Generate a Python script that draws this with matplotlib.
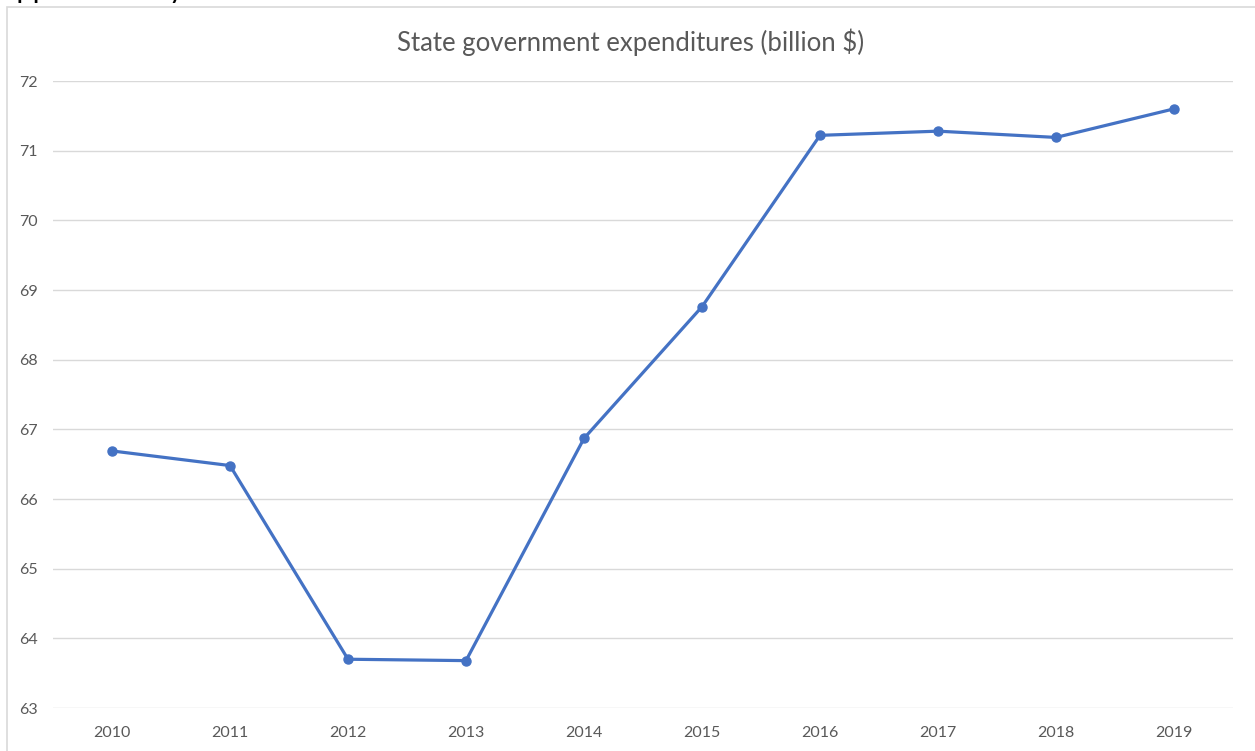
import matplotlib.pyplot as plt
from matplotlib.patches import Rectangle

# data
years = ["2010", "2011", "2012", "2013", "2014", "2015", "2016", "2017", "2018", "2019"]
spending = [66.69, 66.48, 63.70, 63.68, 66.87, 68.76, 71.22, 71.28, 71.19, 71.60]
y_ticks = [63, 64, 65, 66, 67, 68, 69, 70, 71, 72]

W, H = 1255, 751
plt.rcParams['font.family'] = ['Lato', 'DejaVu Sans']
fig = plt.figure(figsize=(W / 100, H / 100), dpi=100)

# chart frame (light grey box, runs off right/bottom)
fig.patches.append(Rectangle((7 / W, -0.05), 1.1, 1 - 7 / H + 0.05,
                             transform=fig.transFigure, fill=False,
                             edgecolor='#d9d9d9', lw=1.2))

# leftover line of the document text above the chart
fig.text(2 / W, 1 + 2 / H, "approximately 66.6 billion dollars.", fontsize=21,
         color='black', ha='left', va='baseline')

ax = fig.add_axes([53 / W, 1 - 708 / H, (1233 - 53) / W, (708 - 81) / H])
x = list(range(len(years)))
ax.plot(x, spending, color='#4472c4', lw=2.3, marker='o', markersize=6.5,
        solid_joinstyle='round', zorder=3)

ax.set_xlim(-0.5, len(years) - 0.5)
ax.set_ylim(63, 72)
ax.set_yticks(y_ticks)
ax.set_xticks(x)
ax.set_xticklabels(years)
ax.grid(axis='y', color='#d9d9d9', lw=1.0)
ax.set_axisbelow(True)
for s in ax.spines.values():
    s.set_visible(False)
ax.tick_params(axis='both', length=0, labelsize=11.5, labelcolor='#595959')
ax.tick_params(axis='y', pad=11)
ax.tick_params(axis='x', pad=13)

fig.text(631 / W, 1 - 42 / H, "State government expenditures (billion $)",
         fontsize=18.5, color='#595959', ha='center', va='center')

fig.savefig("out.png", dpi=100)
